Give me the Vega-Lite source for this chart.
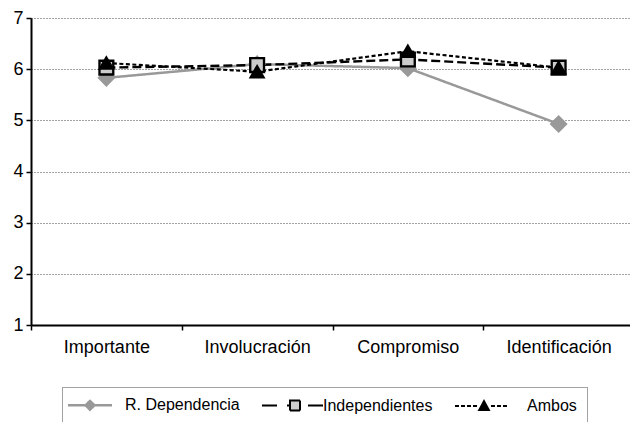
{
  "$schema": "https://vega.github.io/schema/vega-lite/v6.json",
  "width": 603,
  "height": 307,
  "autosize": "none",
  "padding": {"left": 31, "top": 18, "right": 0, "bottom": 97},
  "background": "white",
  "config": {
    "view": {"stroke": null},
    "font": "Liberation Sans",
    "legend": {"strokeDash": [1, 1]},
    "axisY": {"gridDash": [1, 2]}
  },
  "data": {
    "values": [
      {"categoria": "Importante", "serie": "R. Dependencia", "valor": 5.83},
      {"categoria": "Involucración", "serie": "R. Dependencia", "valor": 6.1},
      {"categoria": "Compromiso", "serie": "R. Dependencia", "valor": 6.02},
      {"categoria": "Identificación", "serie": "R. Dependencia", "valor": 4.93},
      {"categoria": "Importante", "serie": "Independientes", "valor": 6.03},
      {"categoria": "Involucración", "serie": "Independientes", "valor": 6.08},
      {"categoria": "Compromiso", "serie": "Independientes", "valor": 6.19},
      {"categoria": "Identificación", "serie": "Independientes", "valor": 6.03},
      {"categoria": "Importante", "serie": "Ambos", "valor": 6.12},
      {"categoria": "Involucración", "serie": "Ambos", "valor": 5.95},
      {"categoria": "Compromiso", "serie": "Ambos", "valor": 6.35},
      {"categoria": "Identificación", "serie": "Ambos", "valor": 6.03}
    ]
  },
  "encoding": {
    "x": {
      "field": "categoria",
      "type": "nominal",
      "sort": ["Importante", "Involucración", "Compromiso", "Identificación"],
      "scale": {"type": "band", "paddingInner": 0, "paddingOuter": 0},
      "axis": {
        "title": null,
        "labelAngle": 0,
        "labelFontSize": 18,
        "labelColor": "#000",
        "labelPadding": 8,
        "domainColor": "#000",
        "domainWidth": 2,
        "tickColor": "#000",
        "tickWidth": 1.5,
        "tickSize": 5,
        "tickBand": "extent",
        "grid": false
      }
    },
    "y": {
      "field": "valor",
      "type": "quantitative",
      "scale": {"domain": [1, 7], "nice": false, "zero": false},
      "axis": {
        "title": null,
        "values": [1, 2, 3, 4, 5, 6, 7],
        "labelFontSize": 18,
        "labelColor": "#000",
        "labelPadding": 3,
        "domainColor": "#000",
        "domainWidth": 2,
        "tickColor": "#000",
        "tickWidth": 1.5,
        "tickSize": 5,
        "grid": true,
        "gridColor": "#444",
        "gridWidth": 1
      }
    }
  },
  "layer": [
    {
      "mark": {"type": "line"},
      "encoding": {
        "color": {
          "field": "serie",
          "type": "nominal",
          "scale": {"domain": ["R. Dependencia", "Independientes", "Ambos"], "range": ["#999999", "#000000", "#000000"]},
          "legend": {
            "orient": "none",
            "legendX": 31,
            "legendY": 369,
            "direction": "horizontal",
            "columns": 3,
            "title": null,
            "symbolSize": 256,
            "labelFontSize": 16,
            "labelColor": "#000",
            "labelFont": "Liberation Sans",
            "labelOffset": 37,
            "columnPadding": 18,
            "padding": 10,
            "strokeColor": "#444",
            "encoding": {
              "symbols": {
                "shape": {"value": {"expr": "datum.value === 'R. Dependencia' ? 'M-1.5,0H4M1.25,-0.55L1.8,0L1.25,0.55L0.7,0Z' : datum.value === 'Independientes' ? 'M-2,0H-0.125M1.125,0H1.5M1.5,-0.625H2.75V0.625H1.5ZM3.75,0H5.625' : 'M-1.5,0H-1M-0.75,0H-0.25M0,0H0.5M0.75,0H1.25M3,0H3.5M3.75,0H4.25M4.5,0H5M1.525,0.5L2.125,-0.6L2.725,0.5Z'"}},
                "fill": {"value": {"expr": "datum.value === 'R. Dependencia' ? '#999999' : datum.value === 'Independientes' ? '#cccccc' : '#000000'"}},
                "stroke": {"value": {"expr": "datum.value === 'R. Dependencia' ? '#999999' : '#000000'"}},
                "strokeWidth": {"value": {"expr": "datum.value === 'R. Dependencia' ? 2.5 : 2"}},
                "strokeDash": {"value": [1, 0]},
                "opacity": {"value": 1}
              },
              "labels": {
                "dx": {"value": {"expr": "datum.value === 'Ambos' ? 15 : 0"}}
              }
            }
          }
        },
        "strokeDash": {
          "field": "serie",
          "type": "nominal",
          "scale": {"range": [[4, 2.5], [9, 4], [1, 0]]},
          "legend": null
        },
        "strokeWidth": {
          "field": "serie",
          "type": "nominal",
          "scale": {"range": [2.2, 2.5, 2.5]},
          "legend": null
        }
      }
    },
    {
      "mark": {"type": "point", "filled": true, "opacity": 1},
      "encoding": {
        "shape": {
          "field": "serie",
          "type": "nominal",
          "scale": {"range": ["triangle-up", "square", "diamond"]},
          "legend": null
        },
        "fill": {
          "field": "serie",
          "type": "nominal",
          "scale": {"range": ["#000000", "#cccccc", "#999999"]},
          "legend": null
        },
        "stroke": {
          "field": "serie",
          "type": "nominal",
          "scale": {"range": ["#000000", "#000000", "#999999"]},
          "legend": null
        },
        "strokeWidth": {
          "field": "serie",
          "type": "nominal",
          "scale": {"range": [1, 3, 1]},
          "legend": null
        },
        "size": {
          "field": "serie",
          "type": "nominal",
          "scale": {"range": [170, 210, 200]},
          "legend": null
        }
      }
    }
  ]
}
